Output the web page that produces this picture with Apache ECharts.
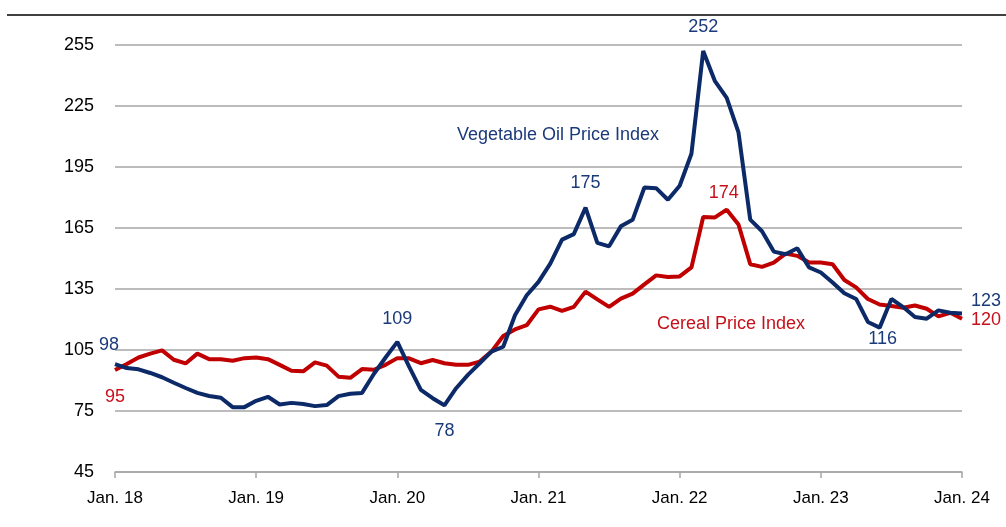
<!DOCTYPE html>
<html>
<head>
<meta charset="utf-8">
<script src="https://cdn.jsdelivr.net/npm/echarts@6/dist/echarts.min.js"></script>
<style>
html,body{margin:0;padding:0;background:#fff;}
#chart{width:1006px;height:527px;}
</style>
</head>
<body>
<div id="chart"></div>
<script>
// Monthly categories Jan. 18 .. Jan. 24
var monthNames = ['Jan','Feb','Mar','Apr','May','Jun','Jul','Aug','Sep','Oct','Nov','Dec'];
var years = ['18','19','20','21','22','23','24'];
var categories = [];
for (var y = 0; y < years.length; y++) {
  for (var m = 0; m < 12; m++) {
    if (y === years.length - 1 && m > 0) break;
    categories.push(monthNames[m] + '. ' + years[y]);
  }
}

var vegOil = [98.1, 96.1, 95.5, 93.7, 91.6, 88.9, 86.3, 83.9, 82.4, 81.5, 76.9, 76.9,
  80, 82, 78.2, 79, 78.4, 77.4, 77.9, 82.3, 83.5, 83.9, 93.2, 101.3,
  109, 96.8, 85.4, 81.3, 77.8, 86.2, 92.8, 98.5, 104.2, 106.6, 122.1, 131.9,
  138.5, 147.5, 159.3, 162, 175, 157.7, 156, 165.8, 169, 184.9, 184.6, 178.9,
  185.8, 201.5, 252, 237.2, 229, 212, 169.1, 163.4, 153.4, 152.1, 155, 145.6,
  143.1, 138.2, 132.9, 130.1, 118.8, 116, 130.1, 126.1, 121.2, 120.4, 124.5, 123.3, 123];

var cereal = [95.2, 98.1, 101.3, 103.2, 104.8, 100.2, 98.4, 103.2, 100.5, 100.5, 99.7, 101,
  101.3, 100.5, 97.7, 94.8, 94.5, 98.9, 97.3, 91.9, 91.3, 95.6, 95.3, 97.7,
  101, 100.9, 98.5, 100.1, 98.5, 97.7, 97.7, 99.3, 104.2, 111.9, 115.1, 117.2,
  125, 126.3, 124.2, 126.2, 133.7, 129.9, 126.2, 130.3, 132.7, 137.3, 141.7, 140.9,
  141.2, 145.6, 170.4, 170.2, 174, 166.7, 147.2, 145.9, 148, 152.4, 151.3, 148,
  148, 147.2, 139.4, 135.8, 130.1, 127.4, 126.6, 125.8, 126.9, 125.3, 121.5, 123.3, 120.4];

var yTicks = {min: 45, max: 255, interval: 30};

// Annotated points: index, label position
var vegLabels = [
  {i: 0, pos: 'top', dist: 10, off: [-6, 0]},
  {i: 24, pos: 'top', dist: 14, off: [0, 0]},
  {i: 28, pos: 'bottom', dist: 17, off: [0, 0]},
  {i: 40, pos: 'top', dist: 16, off: [0, 0]},
  {i: 50, pos: 'top', dist: 15, off: [0, 0]},
  {i: 65, pos: 'bottom', dist: 2, off: [3, 0]},
  {i: 72, pos: 'right', dist: 9, off: [0, -12]}
];
var cerealLabels = [
  {i: 0, pos: 'bottom', dist: 18, off: [0, 0]},
  {i: 52, pos: 'top', dist: 8, off: [-3, 0]},
  {i: 72, pos: 'right', dist: 9, off: [0, 1]}
];

var FONT = '"Liberation Sans", Arial, sans-serif';
var BLUE = '#0c2a67';
var BLUE_TXT = '#1b3a7a';
var RED = '#c00000';
var RED_TXT = '#c8101a';

function buildData(values, labels, color) {
  var out = values.map(function (v) { return {value: v}; });
  labels.forEach(function (l) {
    out[l.i].label = {
      show: true, position: l.pos, distance: l.dist, offset: l.off,
      color: color, fontSize: 18, fontFamily: FONT,
      formatter: function (p) { return String(Math.round(p.value)); }
    };
  });
  return out;
}

var chart = echarts.init(document.getElementById('chart'), null, {renderer: 'canvas'});
chart.setOption({
  animation: false,
  backgroundColor: '#fff',
  grid: {left: 115, right: 44, top: 45, bottom: 55, containLabel: false},
  xAxis: {
    type: 'category',
    data: categories,
    boundaryGap: false,
    axisLine: {show: true, lineStyle: {color: '#a6a6a6', width: 1.5}},
    axisTick: {show: true, interval: function (idx) { return idx % 12 === 0; }, length: 6, lineStyle: {color: '#a6a6a6', width: 1.5}},
    axisLabel: {
      interval: function (idx) { return idx % 12 === 0; },
      color: '#000', fontSize: 17, fontFamily: FONT, margin: 18
    },
    splitLine: {show: false}
  },
  yAxis: {
    type: 'value',
    min: yTicks.min, max: yTicks.max, interval: yTicks.interval,
    axisLine: {show: false},
    axisTick: {show: false},
    axisLabel: {color: '#000', fontSize: 18, fontFamily: FONT, margin: 21},
    splitLine: {show: true, lineStyle: {color: '#a6a6a6', width: 1.5}}
  },
  series: [
    {
      name: 'Cereal Price Index', type: 'line',
      data: buildData(cereal, cerealLabels, RED_TXT),
      symbol: 'circle', symbolSize: 0, showSymbol: true,
      lineStyle: {color: RED, width: 4}, itemStyle: {color: RED},
      z: 3
    },
    {
      name: 'Vegetable Oil Price Index', type: 'line',
      data: buildData(vegOil, vegLabels, BLUE_TXT),
      symbol: 'circle', symbolSize: 0, showSymbol: true,
      lineStyle: {color: BLUE, width: 4}, itemStyle: {color: BLUE},
      z: 4
    }
  ],
  graphic: [
    {type: 'line', shape: {x1: 7, y1: 15, x2: 1006, y2: 15}, style: {stroke: '#404040', lineWidth: 2}},
    {type: 'text', x: 558, y: 135, style: {text: 'Vegetable Oil Price Index', fill: BLUE_TXT, font: '18px ' + FONT, textAlign: 'center', textVerticalAlign: 'middle'}},
    {type: 'text', x: 731, y: 324, style: {text: 'Cereal Price Index', fill: RED_TXT, font: '18px ' + FONT, textAlign: 'center', textVerticalAlign: 'middle'}}
  ]
});
</script>
</body>
</html>
